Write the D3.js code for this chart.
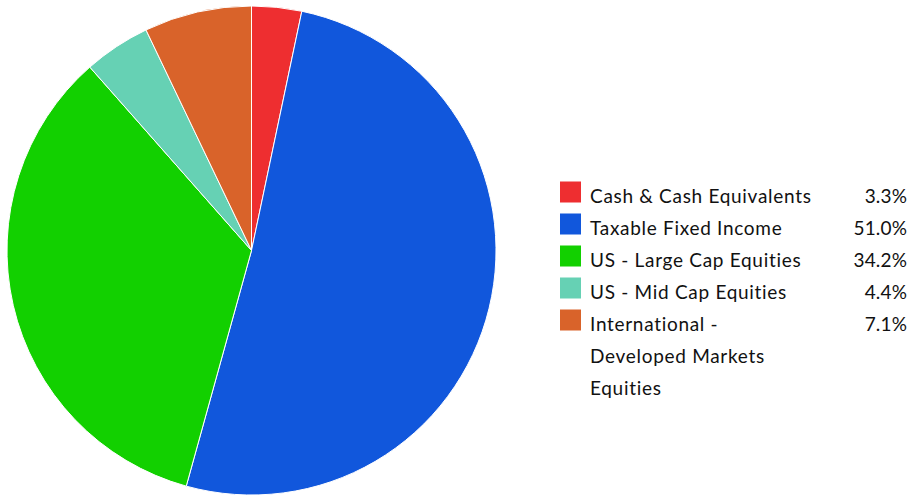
<!DOCTYPE html>
<html><head><meta charset="utf-8">
<script src="https://cdn.jsdelivr.net/npm/d3@7"></script>
<style>html,body{margin:0;padding:0;background:#fff;}svg{display:block;}</style>
</head><body>
<svg id="chart" width="911" height="496"></svg>
<script>
const categories = ["Cash & Cash Equivalents","Taxable Fixed Income","US - Large Cap Equities","US - Mid Cap Equities","International - Developed Markets Equities"];
const labelLines = [["Cash & Cash Equivalents"],["Taxable Fixed Income"],["US - Large Cap Equities"],["US - Mid Cap Equities"],["International -","Developed Markets","Equities"]];
const values = [3.3, 51.0, 34.2, 4.4, 7.1];
const valueLabels = ["3.3%","51.0%","34.2%","4.4%","7.1%"];
const colors = ["#ee2e30","#1157dc","#12d000","#66d1b4","#d9632a"];

const svg = d3.select("#chart");
const cx = 251.5, cy = 250.5, r = 244.5;
const pie = d3.pie().sort(null).value(d => d)(values);
const arc = d3.arc().innerRadius(0).outerRadius(r);
const color = d3.scaleOrdinal().domain(categories).range(colors);

svg.append("g").attr("transform", `translate(${cx},${cy})`)
  .selectAll("path").data(pie).join("path")
  .attr("d", arc)
  .attr("fill", (d,i) => color(categories[i]))
  .attr("stroke", "#fff").attr("stroke-width", 1);

const font = "Lato, 'Open Sans', sans-serif";
const ls = 0.7, lsv = 0.2;
const lg = svg.append("g");
const lineH = 32, base0 = 203;
categories.forEach((c, i) => {
  const y = base0 + i * lineH;
  lg.append("rect").attr("x", 560).attr("y", y - 21.5).attr("width", 21).attr("height", 21).attr("fill", color(c));
  labelLines[i].forEach((t, j) => {
    lg.append("text").attr("x", 590).attr("y", y + j * lineH)
      .attr("font-family", font).attr("font-size", 19).attr("letter-spacing", ls).attr("fill", "#111").text(t);
  });
  lg.append("text").attr("x", 907 + lsv).attr("y", y).attr("text-anchor", "end")
    .attr("font-family", font).attr("font-size", 19).attr("letter-spacing", lsv).attr("fill", "#111").text(valueLabels[i]);
});
</script>
</body></html>
